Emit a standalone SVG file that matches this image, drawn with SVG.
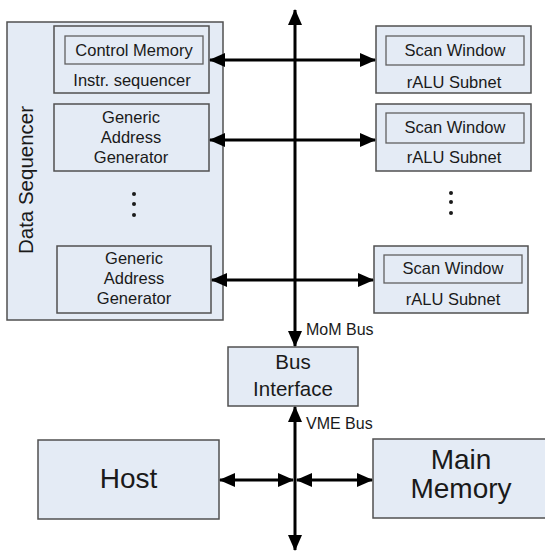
<svg xmlns="http://www.w3.org/2000/svg" width="545" height="552" viewBox="0 0 545 552">
  <style>
    .box { fill: #e4ebf5; stroke: #505050; stroke-width: 1.5; }
    .inner { fill: #e4ebf5; stroke: #606060; stroke-width: 1.3; }
    text { font-family: "Liberation Sans", Arial, sans-serif; fill: #1a1a1a; text-anchor: middle; }
    .t16 { font-size: 16.5px; }
    .big { font-size: 28px; }
    .lbl { font-size: 16px; text-anchor: start; }
    .wire { stroke: #000; stroke-width: 3; fill: none; }
    .dot { fill: #1a1a1a; }
  </style>
  <defs>
    <marker id="head" markerUnits="userSpaceOnUse" markerWidth="16" markerHeight="14" refX="15" refY="7" orient="auto-start-reverse">
      <path d="M0,0 L16,7 L0,14 z" fill="#000"/>
    </marker>
  </defs>

  <!-- Data sequencer block -->
  <g id="data-sequencer">
    <rect class="box" x="7" y="22" width="216" height="298"/>
    <text transform="translate(33,180) rotate(-90)" style="font-size:20.5px">Data Sequencer</text>
  </g>
  <g id="instr-sequencer">
    <rect class="box" x="54" y="26" width="155" height="67"/>
    <rect class="inner" x="65" y="36" width="138" height="28"/>
    <text class="t16" x="134" y="56">Control Memory</text>
    <text class="t16" x="132" y="86">Instr. sequencer</text>
  </g>
  <g id="gag-1">
    <rect class="box" x="54" y="104" width="155" height="67"/>
    <text class="t16" x="131" y="123">Generic</text>
    <text class="t16" x="131" y="143">Address</text>
    <text class="t16" x="131" y="163">Generator</text>
  </g>
  <g id="gag-dots">
    <circle class="dot" cx="134" cy="194" r="2"/>
    <circle class="dot" cx="134" cy="204" r="2"/>
    <circle class="dot" cx="134" cy="215" r="2"/>
  </g>
  <g id="gag-n">
    <rect class="box" x="57" y="246" width="154" height="67"/>
    <text class="t16" x="134" y="264">Generic</text>
    <text class="t16" x="134" y="284">Address</text>
    <text class="t16" x="134" y="304">Generator</text>
  </g>

  <!-- rALU subnets -->
  <g id="subnet-1">
    <rect class="box" x="376" y="26" width="155" height="67"/>
    <rect class="inner" x="386" y="36" width="138" height="29"/>
    <text class="t16" x="455" y="56">Scan Window</text>
    <text class="t16" x="454" y="88">rALU Subnet</text>
  </g>
  <g id="subnet-2">
    <rect class="box" x="376" y="104" width="155" height="67"/>
    <rect class="inner" x="386" y="113" width="138" height="30"/>
    <text class="t16" x="455" y="133">Scan Window</text>
    <text class="t16" x="454" y="163">rALU Subnet</text>
  </g>
  <g id="subnet-dots">
    <circle class="dot" cx="451" cy="193" r="2"/>
    <circle class="dot" cx="451" cy="202" r="2"/>
    <circle class="dot" cx="451" cy="213" r="2"/>
  </g>
  <g id="subnet-n">
    <rect class="box" x="374" y="246" width="154" height="67"/>
    <rect class="inner" x="384" y="255" width="138" height="28"/>
    <text class="t16" x="453" y="274">Scan Window</text>
    <text class="t16" x="453" y="305">rALU Subnet</text>
  </g>

  <!-- Bus interface, host, memory -->
  <g id="bus-interface">
    <rect class="box" x="228" y="347" width="130" height="59"/>
    <text x="293" y="369" style="font-size:20.5px">Bus</text>
    <text x="293" y="396" style="font-size:20.5px">Interface</text>
  </g>
  <g id="host">
    <rect class="box" x="38" y="440" width="181" height="79"/>
    <text class="big" x="128.5" y="488">Host</text>
  </g>
  <g id="main-memory">
    <rect class="box" x="373" y="439" width="176" height="79"/>
    <text class="big" x="461" y="469">Main</text>
    <text class="big" x="461" y="498">Memory</text>
  </g>

  <!-- Buses and links -->
  <g id="connectors">
    <line class="wire" x1="295" y1="10" x2="295" y2="346" marker-start="url(#head)" marker-end="url(#head)"/>
    <line class="wire" x1="295" y1="407" x2="295" y2="550" marker-start="url(#head)" marker-end="url(#head)"/>
    <line class="wire" x1="210" y1="60" x2="375" y2="60" marker-start="url(#head)" marker-end="url(#head)"/>
    <line class="wire" x1="210" y1="140" x2="375" y2="140" marker-start="url(#head)" marker-end="url(#head)"/>
    <line class="wire" x1="212" y1="280" x2="373" y2="280" marker-start="url(#head)" marker-end="url(#head)"/>
    <line class="wire" x1="220" y1="480" x2="293" y2="480" marker-start="url(#head)" marker-end="url(#head)"/>
    <line class="wire" x1="297" y1="480" x2="372" y2="480" marker-start="url(#head)" marker-end="url(#head)"/>
    <text class="lbl" x="306" y="335">MoM Bus</text>
    <text class="lbl" x="306" y="429">VME Bus</text>
  </g>
</svg>
